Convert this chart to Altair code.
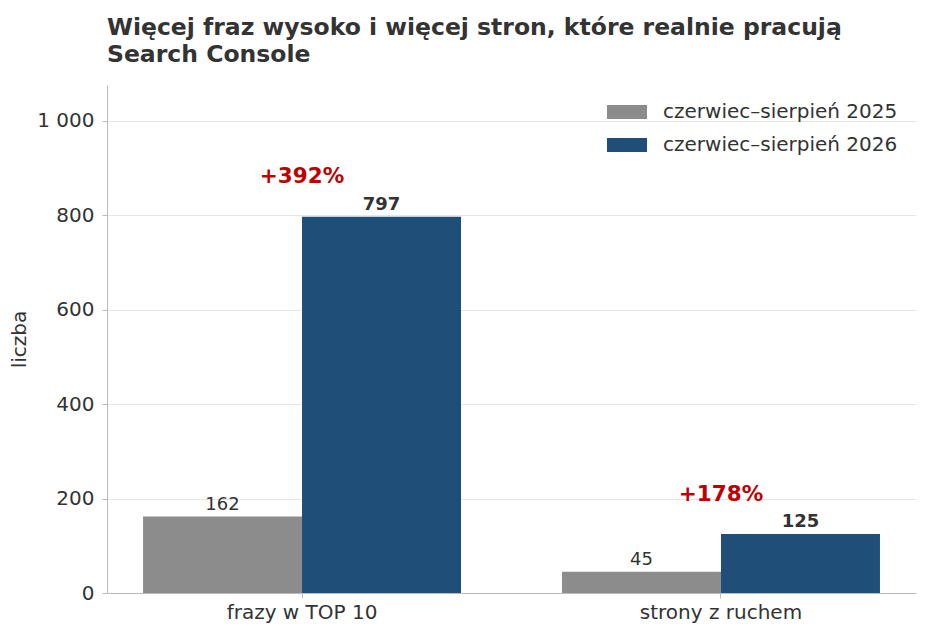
import altair as alt
import pandas as pd

categories = ["frazy w TOP 10", "strony z ruchem"]
periods = ["czerwiec–sierpień 2025", "czerwiec–sierpień 2026"]
v2025 = [162, 45]
v2026 = [797, 125]
pct_labels = ["+392%", "+178%"]

rows = []
for c, a, b in zip(categories, v2025, v2026):
    rows.append({"cat": c, "period": periods[0], "value": a})
    rows.append({"cat": c, "period": periods[1], "value": b})
df = pd.DataFrame(rows)

ymax = max(v2026) * 1.35
pct_df = pd.DataFrame({
    "cat": categories,
    "label": pct_labels,
    "ypos": [b + 0.056 * ymax for b in v2026],
})

FONT = "DejaVu Sans"
TXT = "#333333"

xenc = alt.X("cat:N", sort=categories, title=None,
             scale=alt.Scale(paddingInner=0.241, paddingOuter=0.086),
             axis=alt.Axis(labelAngle=0, labelFontSize=20, labelColor=TXT,
                           labelFont=FONT, tickSize=5, tickColor="#bbbbbb",
                           domainColor="#bbbbbb", labelPadding=4))
yscale = alt.Scale(domain=[0, ymax], nice=False)

bars = alt.Chart(df).mark_bar().encode(
    x=xenc,
    xOffset=alt.XOffset("period:N", sort=periods),
    y=alt.Y("value:Q", scale=yscale, title="liczba",
            axis=alt.Axis(values=[0, 200, 400, 600, 800, 1000],
                          labelExpr="replace(format(datum.value, ','), ',', ' ')",
                          labelFontSize=20, labelColor=TXT, labelFont=FONT,
                          titleFontSize=20, titleFont=FONT, titleColor=TXT,
                          titleFontWeight="normal", titleX=-78,
                          tickSize=5, tickColor="#bbbbbb", domainColor="#bbbbbb",
                          gridColor="#e6e6e6", labelPadding=8)),
    color=alt.Color("period:N", sort=periods,
                    scale=alt.Scale(domain=periods, range=["#8c8c8c", "#1f4e79"]),
                    legend=alt.Legend(title=None, orient="none", legendX=500, legendY=7,
                                      symbolType="M-1,-0.35L1,-0.35L1,0.35L-1,0.35Z",
                                      symbolSize=1600, symbolStrokeWidth=0,
                                      symbolOpacity=1, labelLimit=400,
                                      labelFontSize=20, labelFont=FONT, labelColor=TXT,
                                      labelOffset=16, rowPadding=3, padding=0)),
)

lab_2025 = alt.Chart(df).transform_filter(alt.datum.period == periods[0]).mark_text(
    baseline="bottom", dy=-3, fontSize=18, font=FONT, color=TXT
).encode(
    x=alt.X("cat:N", sort=categories),
    xOffset=alt.XOffset("period:N", sort=periods),
    y=alt.Y("value:Q", scale=yscale),
    text="value:Q",
)
lab_2026 = alt.Chart(df).transform_filter(alt.datum.period == periods[1]).mark_text(
    baseline="bottom", dy=-3, fontSize=18, font=FONT, color=TXT, fontWeight="bold"
).encode(
    x=alt.X("cat:N", sort=categories),
    xOffset=alt.XOffset("period:N", sort=periods),
    y=alt.Y("value:Q", scale=yscale),
    text="value:Q",
)
pct = alt.Chart(pct_df).mark_text(
    baseline="bottom", fontSize=21.5, font=FONT, color="#c00000", fontWeight="bold"
).encode(
    x=alt.X("cat:N", sort=categories),
    y=alt.Y("ypos:Q", scale=yscale),
    text="label:N",
)

chart = alt.layer(bars, lab_2025, lab_2026, pct).properties(
    width=809, height=508,
    background="white",
    title=alt.TitleParams(
        ["Więcej fraz wysoko i więcej stron, które realnie pracują", "Search Console"],
        anchor="start", frame="group", fontSize=23.5, font=FONT, fontWeight="bold",
        color=TXT, offset=19, lineHeight=27),
    autosize=alt.AutoSizeParams(type="none"),
    padding={"left": 99, "top": 77, "right": 2, "bottom": 34},
).configure_view(strokeWidth=0, stroke=None)

chart.save("out.html", embed_options={"renderer": "svg", "actions": False})
